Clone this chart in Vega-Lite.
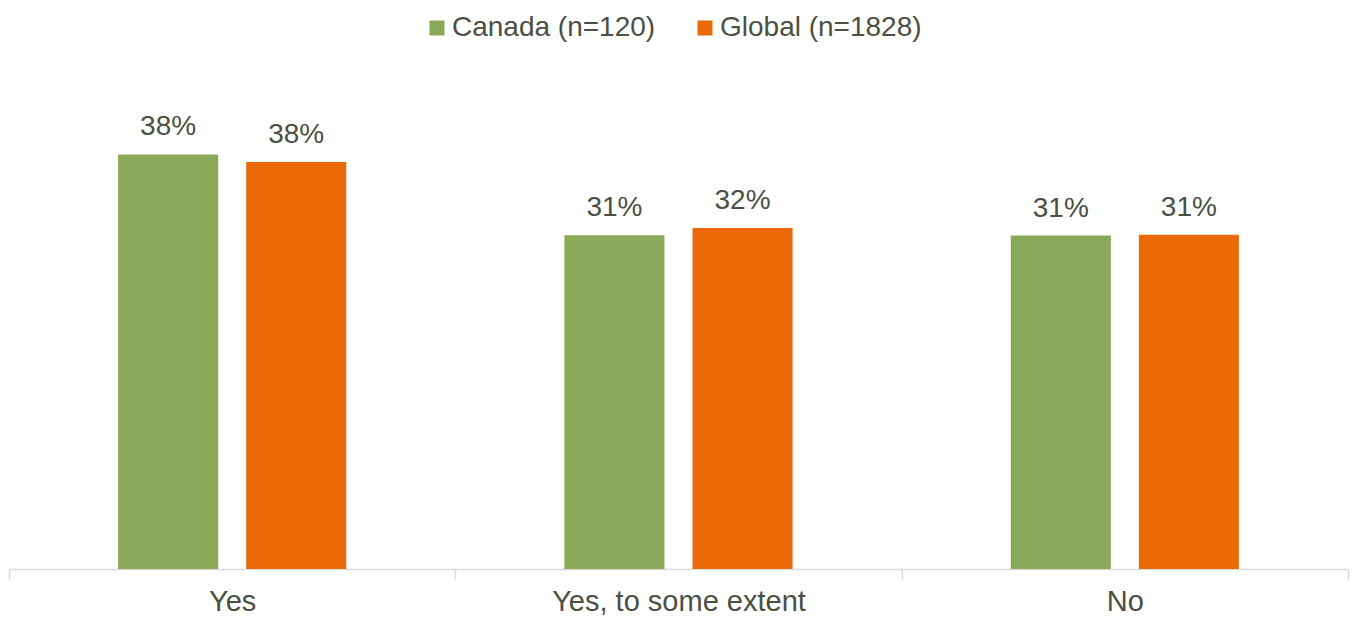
{
  "$schema": "https://vega.github.io/schema/vega-lite/v6.json",
  "width": 1339,
  "height": 486,
  "autosize": {"type": "none"},
  "padding": {"left": 9, "top": 83, "right": 6, "bottom": 48},
  "background": "white",
  "config": {
    "view": {"stroke": null},
    "font": "Liberation Sans",
    "text": {"font": "Liberation Sans"}
  },
  "data": {
    "values": [
      {"category": "Yes", "series": "Canada (n=120)", "value": 0.3839},
      {"category": "Yes", "series": "Global (n=1828)", "value": 0.3768},
      {"category": "Yes, to some extent", "series": "Canada (n=120)", "value": 0.309},
      {"category": "Yes, to some extent", "series": "Global (n=1828)", "value": 0.3157},
      {"category": "No", "series": "Canada (n=120)", "value": 0.3087},
      {"category": "No", "series": "Global (n=1828)", "value": 0.3096}
    ]
  },
  "encoding": {
    "x": {
      "field": "category",
      "type": "nominal",
      "sort": ["Yes", "Yes, to some extent", "No"],
      "scale": {"paddingInner": 0, "paddingOuter": 0},
      "axis": {
        "title": null,
        "labelAngle": 0,
        "labelFontSize": 29,
        "labelLimit": 0,
        "labelColor": "#4B5043",
        "labelFont": "Liberation Sans",
        "labelBaseline": "alphabetic",
        "labelPadding": 31,
        "tickBand": "extent",
        "tickSize": 10,
        "tickColor": "#D9D9D9",
        "tickWidth": 1.5,
        "domainColor": "#D9D9D9",
        "domainWidth": 1.5
      }
    },
    "xOffset": {
      "field": "series",
      "type": "nominal",
      "scale": {"paddingInner": 0.21875, "paddingOuter": 0.8516}
    },
    "y": {
      "field": "value",
      "type": "quantitative",
      "scale": {"domain": [0, 0.45]},
      "axis": null
    }
  },
  "layer": [
    {
      "mark": {"type": "bar"},
      "encoding": {
        "color": {
          "field": "series",
          "type": "nominal",
          "scale": {"domain": ["Canada (n=120)", "Global (n=1828)"], "range": ["#8AAA5A", "#EB6909"]},
          "legend": {
            "title": null,
            "orient": "none",
            "direction": "horizontal",
            "legendX": 414,
            "legendY": -69,
            "symbolType": "square",
            "symbolSize": 225,
            "symbolStrokeWidth": 0,
            "labelFontSize": 28,
            "labelLimit": 0,
            "labelFont": "Liberation Sans",
            "labelColor": "#4B5043",
            "labelOffset": 1,
            "columnPadding": 35
          }
        }
      }
    },
    {
      "mark": {"type": "text", "baseline": "alphabetic", "dy": -19, "fontSize": 28, "color": "#4B5043", "font": "Liberation Sans"},
      "encoding": {
        "text": {"field": "value", "type": "quantitative", "format": ".0%"}
      }
    }
  ]
}
